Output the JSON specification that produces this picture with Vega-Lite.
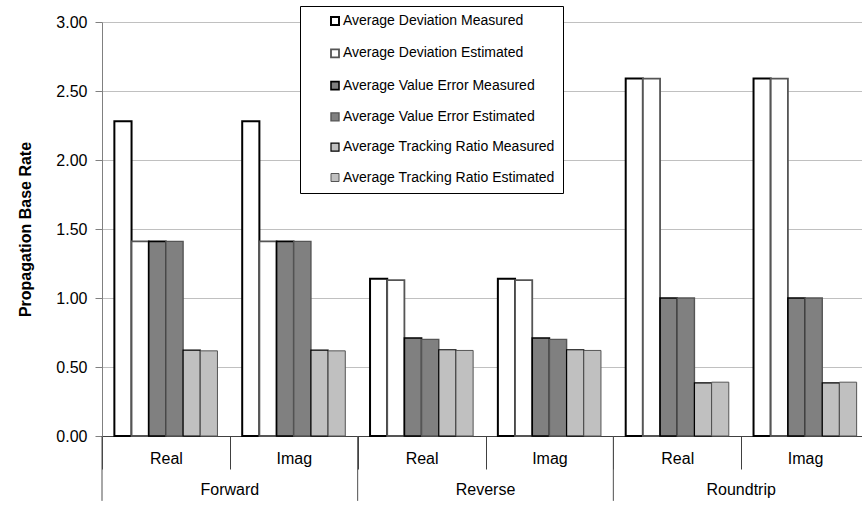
{
  "$schema": "https://vega.github.io/schema/vega-lite/v6.json",
  "width": 760,
  "height": 414,
  "autosize": {"type": "none"},
  "padding": {"left": 102, "top": 22, "right": 0, "bottom": 95},
  "background": "white",
  "config": {"view": {"stroke": null}, "font": "Liberation Sans", "legend": {"labelLimit": 0}},
  "layer": [
    {
      "data": {"values": [
        {"cat": "Forward|Real", "series": "Average Deviation Measured", "value": 2.28},
        {"cat": "Forward|Real", "series": "Average Deviation Estimated", "value": 1.41},
        {"cat": "Forward|Real", "series": "Average Value Error Measured", "value": 1.41},
        {"cat": "Forward|Real", "series": "Average Value Error Estimated", "value": 1.41},
        {"cat": "Forward|Real", "series": "Average Tracking Ratio Measured", "value": 0.623},
        {"cat": "Forward|Real", "series": "Average Tracking Ratio Estimated", "value": 0.617},
        {"cat": "Forward|Imag", "series": "Average Deviation Measured", "value": 2.28},
        {"cat": "Forward|Imag", "series": "Average Deviation Estimated", "value": 1.41},
        {"cat": "Forward|Imag", "series": "Average Value Error Measured", "value": 1.41},
        {"cat": "Forward|Imag", "series": "Average Value Error Estimated", "value": 1.41},
        {"cat": "Forward|Imag", "series": "Average Tracking Ratio Measured", "value": 0.623},
        {"cat": "Forward|Imag", "series": "Average Tracking Ratio Estimated", "value": 0.617},
        {"cat": "Reverse|Real", "series": "Average Deviation Measured", "value": 1.14},
        {"cat": "Reverse|Real", "series": "Average Deviation Estimated", "value": 1.13},
        {"cat": "Reverse|Real", "series": "Average Value Error Measured", "value": 0.71},
        {"cat": "Reverse|Real", "series": "Average Value Error Estimated", "value": 0.70},
        {"cat": "Reverse|Real", "series": "Average Tracking Ratio Measured", "value": 0.625},
        {"cat": "Reverse|Real", "series": "Average Tracking Ratio Estimated", "value": 0.62},
        {"cat": "Reverse|Imag", "series": "Average Deviation Measured", "value": 1.14},
        {"cat": "Reverse|Imag", "series": "Average Deviation Estimated", "value": 1.13},
        {"cat": "Reverse|Imag", "series": "Average Value Error Measured", "value": 0.71},
        {"cat": "Reverse|Imag", "series": "Average Value Error Estimated", "value": 0.70},
        {"cat": "Reverse|Imag", "series": "Average Tracking Ratio Measured", "value": 0.625},
        {"cat": "Reverse|Imag", "series": "Average Tracking Ratio Estimated", "value": 0.62},
        {"cat": "Roundtrip|Real", "series": "Average Deviation Measured", "value": 2.59},
        {"cat": "Roundtrip|Real", "series": "Average Deviation Estimated", "value": 2.59},
        {"cat": "Roundtrip|Real", "series": "Average Value Error Measured", "value": 1.0},
        {"cat": "Roundtrip|Real", "series": "Average Value Error Estimated", "value": 1.0},
        {"cat": "Roundtrip|Real", "series": "Average Tracking Ratio Measured", "value": 0.385},
        {"cat": "Roundtrip|Real", "series": "Average Tracking Ratio Estimated", "value": 0.39},
        {"cat": "Roundtrip|Imag", "series": "Average Deviation Measured", "value": 2.59},
        {"cat": "Roundtrip|Imag", "series": "Average Deviation Estimated", "value": 2.59},
        {"cat": "Roundtrip|Imag", "series": "Average Value Error Measured", "value": 1.0},
        {"cat": "Roundtrip|Imag", "series": "Average Value Error Estimated", "value": 1.0},
        {"cat": "Roundtrip|Imag", "series": "Average Tracking Ratio Measured", "value": 0.385},
        {"cat": "Roundtrip|Imag", "series": "Average Tracking Ratio Estimated", "value": 0.39}
      ]},
      "mark": {"type": "bar"},
      "encoding": {
        "x": {
          "field": "cat", "type": "nominal",
          "scale": {"domain": ["Forward|Real", "Forward|Imag", "Reverse|Real", "Reverse|Imag", "Roundtrip|Real", "Roundtrip|Imag"], "range": [0, 767], "paddingInner": 0, "paddingOuter": 0},
          "axis": {"title": null, "labelExpr": "split(datum.label,'|')[1]", "tickBand": "extent", "tickSize": 33, "labelPadding": -19, "labelFontSize": 16, "labelColor": "black", "labelAngle": 0, "domainColor": "#404040", "tickColor": "#404040", "grid": false}
        },
        "xOffset": {
          "field": "series", "type": "nominal",
          "scale": {"domain": ["Average Deviation Measured", "Average Deviation Estimated", "Average Value Error Measured", "Average Value Error Estimated", "Average Tracking Ratio Measured", "Average Tracking Ratio Estimated"], "paddingInner": 0, "paddingOuter": 0.72}
        },
        "y": {
          "field": "value", "type": "quantitative",
          "scale": {"domain": [0, 3], "nice": false},
          "axis": {"title": "Propagation Base Rate", "format": ".2f", "values": [0, 0.5, 1, 1.5, 2, 2.5, 3], "tickSize": 7, "labelPadding": 8, "labelFontSize": 16, "labelColor": "black", "titleFontSize": 16, "titleFontWeight": "bold", "titleColor": "black", "titlePadding": 22, "gridColor": "#c0c0c0", "domainColor": "#808080", "tickColor": "#808080"}
        },
        "fill": {
          "field": "series", "type": "nominal",
          "scale": {"domain": ["Average Deviation Measured", "Average Deviation Estimated", "Average Value Error Measured", "Average Value Error Estimated", "Average Tracking Ratio Measured", "Average Tracking Ratio Estimated"], "range": ["#ffffff", "#ffffff", "#808080", "#808080", "#c0c0c0", "#c0c0c0"]},
          "legend": {"title": null, "orient": "none", "legendX": 198, "legendY": -16, "symbolType": "square", "symbolSize": 64, "labelFontSize": 14, "labelColor": "black", "labelLimit": 0, "strokeColor": "black", "fillColor": "white", "padding": 8, "symbolOffset": 20, "labelOffset": 1, "rowPadding": 16.3}
        },
        "stroke": {
          "field": "series", "type": "nominal",
          "scale": {"domain": ["Average Deviation Measured", "Average Deviation Estimated", "Average Value Error Measured", "Average Value Error Estimated", "Average Tracking Ratio Measured", "Average Tracking Ratio Estimated"], "range": ["#000000", "#555555", "#000000", "#555555", "#000000", "#555555"]},
          "legend": {"title": null, "orient": "none", "legendX": 198, "legendY": -16, "symbolType": "square", "symbolSize": 64, "labelFontSize": 14, "labelColor": "black", "labelLimit": 0, "strokeColor": "black", "fillColor": "white", "padding": 8, "symbolOffset": 20, "labelOffset": 1, "rowPadding": 16.3}
        },
        "strokeWidth": {
          "field": "series", "type": "nominal",
          "scale": {"domain": ["Average Deviation Measured", "Average Deviation Estimated", "Average Value Error Measured", "Average Value Error Estimated", "Average Tracking Ratio Measured", "Average Tracking Ratio Estimated"], "range": [2, 1, 2, 1, 2, 1]},
          "legend": {"title": null, "orient": "none", "legendX": 198, "legendY": -16, "symbolType": "square", "symbolSize": 64, "labelFontSize": 14, "labelColor": "black", "labelLimit": 0, "strokeColor": "black", "fillColor": "white", "padding": 8, "symbolOffset": 20, "labelOffset": 1, "rowPadding": 16.3}
        }
      }
    },
    {
      "data": {"values": [{"cat": "Forward|Real"}, {"cat": "Reverse|Real"}, {"cat": "Roundtrip|Real"}]},
      "mark": {"type": "rule", "color": "#505050", "strokeWidth": 1},
      "encoding": {
        "x": {"field": "cat", "type": "nominal", "bandPosition": 0},
        "y": {"datum": 0},
        "y2": {"datum": -0.47}
      }
    },
    {
      "data": {"values": [{"cat": "Forward|Imag", "g": "Forward"}, {"cat": "Reverse|Imag", "g": "Reverse"}, {"cat": "Roundtrip|Imag", "g": "Roundtrip"}]},
      "mark": {"type": "text", "fontSize": 16, "baseline": "middle", "align": "center", "color": "black"},
      "encoding": {
        "x": {"field": "cat", "type": "nominal", "bandPosition": 0},
        "y": {"datum": -0.39},
        "text": {"field": "g"}
      }
    }
  ]
}
